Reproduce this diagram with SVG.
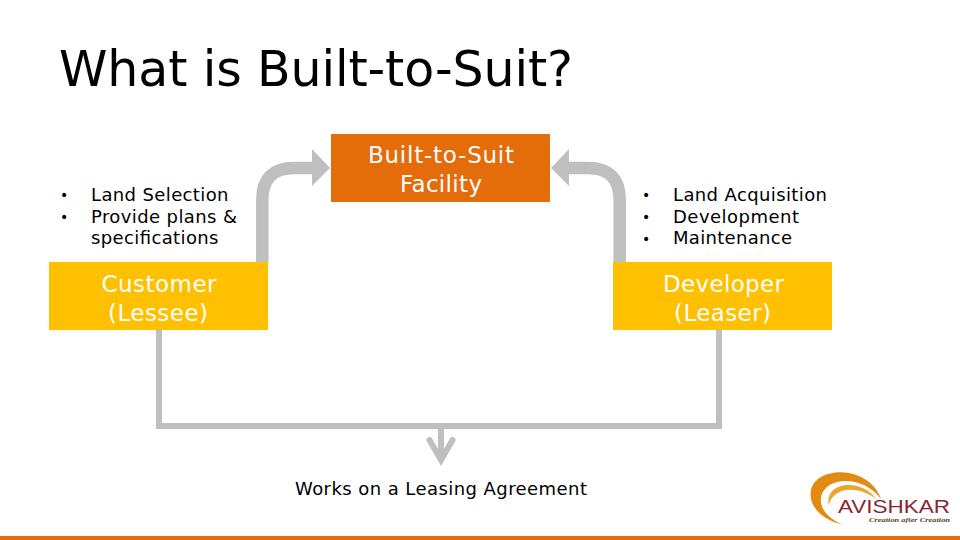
<svg xmlns="http://www.w3.org/2000/svg" width="960" height="540" viewBox="0 0 960 540">
<style>
text{font-family:"DejaVu Sans",Verdana,sans-serif}
.t{fill:#000;font-size:18px}
.b{fill:#000;font-size:14px}
.n{fill:#fff;font-size:23px}
.bent{fill:none;stroke:#bfbfbf;stroke-width:12.500}
.thin{fill:none;stroke:#bfbfbf;stroke-width:6}
.head{fill:#bfbfbf}
</style>
<rect width="960" height="540" fill="#fff"/>
<text id="title" x="59" y="86" font-size="49" fill="#000" textLength="514">What is Built-to-Suit?</text>
<g id="connectors">
<path class="bent" d="M262.300 262V200Q262.300 168 294 168H314"/>
<polygon class="head" points="312,149 330,168 312,186"/>
<path class="bent" d="M619.700 262V200Q619.700 168 588 168H568"/>
<polygon class="head" points="569,149 551,168 569,186"/>
<path class="thin" d="M159 330V426H719V330"/>
<path class="thin" d="M441 426V458"/>
<path class="thin" d="M429.500 440L441 460L452.500 440" stroke-linecap="round"/>
</g>
<g id="facility"><rect x="331" y="134" width="219" height="68" fill="#e46c0a"/>
<text class="n" x="368" y="162.500" textLength="146">Built-to-Suit</text><text class="n" x="400" y="191.500" textLength="82">Facility</text></g>
<g id="customer"><rect x="49" y="262" width="219" height="68" fill="#ffc000"/>
<text class="n" x="101.500" y="291.500" textLength="115">Customer</text><text class="n" x="108" y="320.500" textLength="100">(Lessee)</text></g>
<g id="developer"><rect x="613" y="262" width="219" height="68" fill="#ffc000"/>
<text class="n" x="663" y="291.500" textLength="121">Developer</text><text class="n" x="674" y="320.500" textLength="97">(Leaser)</text></g>
<g id="customer-list">
<text class="b" x="60" y="199.500">•</text><text class="t" x="91" y="200.500" textLength="137.500">Land Selection</text>
<text class="b" x="60" y="221.500">•</text><text class="t" x="91" y="222.500" textLength="146">Provide plans &amp;</text>
<text class="t" x="91" y="244" textLength="127.500">specifications</text></g>
<g id="developer-list">
<text class="b" x="642" y="199.500">•</text><text class="t" x="673" y="200.500" textLength="154">Land Acquisition</text>
<text class="b" x="642" y="221.500">•</text><text class="t" x="673" y="222.500" textLength="126">Development</text>
<text class="b" x="642" y="243.500">•</text><text class="t" x="673" y="244" textLength="119">Maintenance</text></g>
<text id="agreement" class="t" x="295" y="495" textLength="292">Works on a Leasing Agreement</text>
<g id="logo">
<path d="M843 525C820 519 808 505 811 490C814 476 832 470 849 473C866 476 877 487 881 499C872 487 858 480 843 481C828 482 819 492 821 503C823 513 832 520 843 525Z" fill="#e38a12"/>
<path d="M829 505C826 494 835 485 848 485C860 485 871 491 876 499C866 491 852 488 842 491C834 494 830 499 829 505Z" fill="#eea52e"/>
<text x="838" y="513" font-size="18.500" fill="#8a2432" style="font-family:'Liberation Sans',sans-serif" textLength="112" lengthAdjust="spacingAndGlyphs">AVISHKAR</text>
<text x="869" y="522" font-size="7" font-style="italic" font-weight="bold" fill="#5a3a28" style="font-family:'Liberation Serif',serif" textLength="81" lengthAdjust="spacingAndGlyphs">Creation after Creation</text>
</g>
<rect id="footer-bar" y="536" width="960" height="4" fill="#e46c0a"/>
</svg>
